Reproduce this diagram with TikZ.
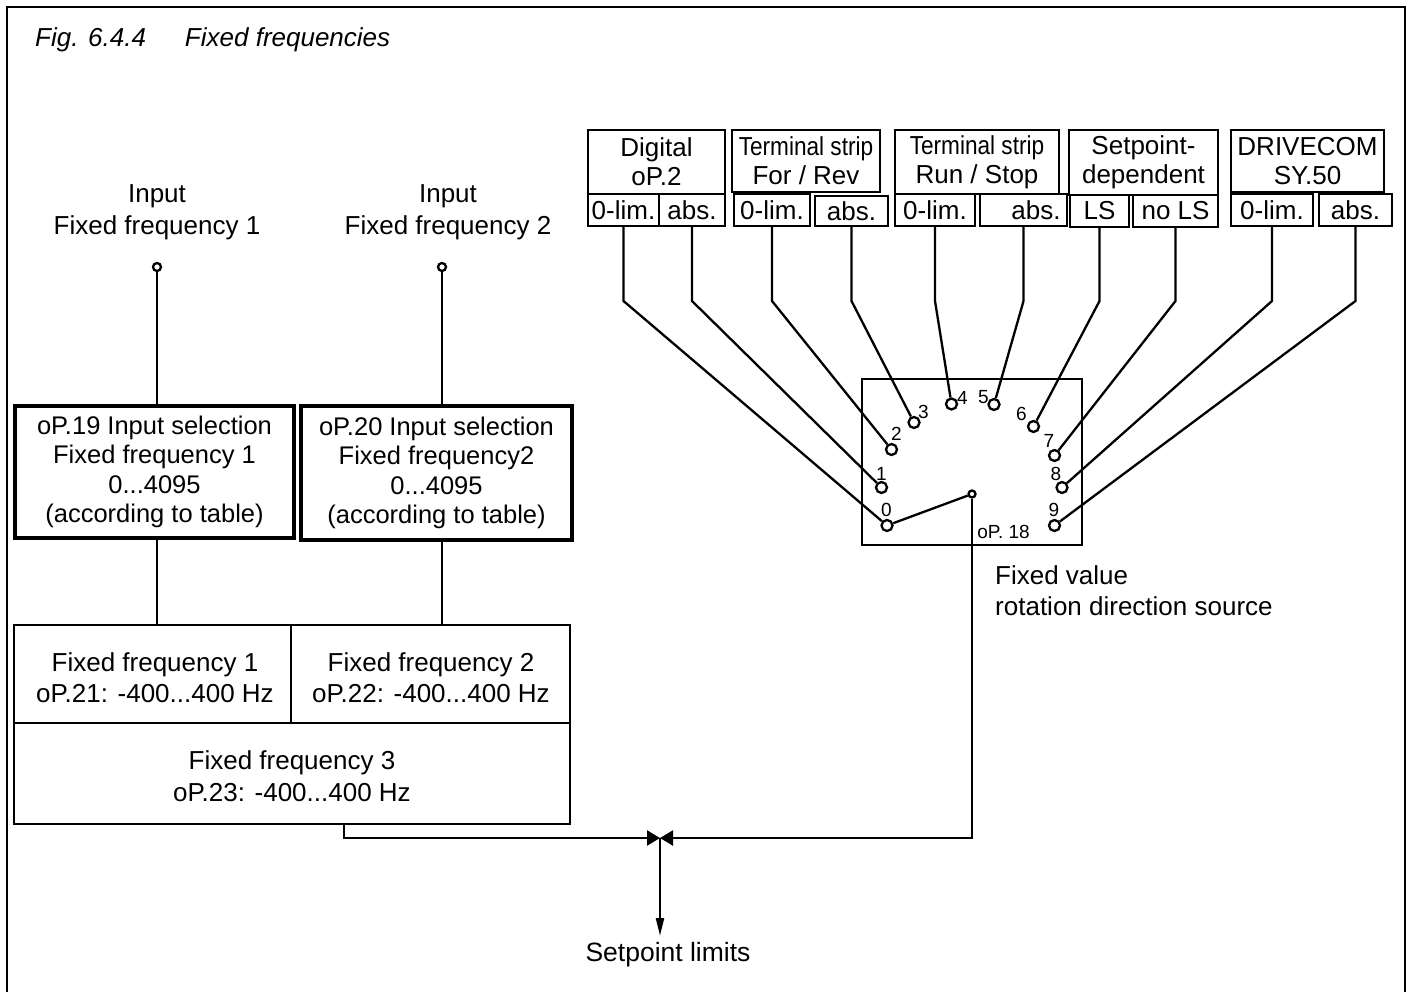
\documentclass[tikz,border=0pt]{standalone}
\usepackage{fontspec}
\setmainfont{Liberation Sans}
\usetikzlibrary{arrows.meta,calc}
\begin{document}
\begin{tikzpicture}[x=1pt,y=-1pt,
  ln/.style={line width=2.3pt},
  txt/.style={font=\fontsize{26}{32}\selectfont, align=center, inner sep=0pt},
  box/.style={draw, line width=2.3pt, inner sep=0pt, align=center, font=\fontsize{26}{29}\selectfont},
  thickbox/.style={draw, line width=3.8pt, inner sep=0pt, align=center, font=\fontsize{25.5}{29.3}\selectfont},
  contact/.style={circle, draw, line width=2.3pt, minimum size=11pt, inner sep=0pt},
  small/.style={font=\fontsize{19}{22}\selectfont, inner sep=0pt},
  jtip/.style={-{Triangle[length=13pt,width=15pt]}},
  dtip/.style={-{Triangle[length=18pt,width=8pt]}}
]
\useasboundingbox (0,0) rectangle (1412,992);
% frame
\draw[ln] (7,992) -- (7,7) -- (1405,7) -- (1405,992);
\node[anchor=west, inner sep=0pt, font=\fontsize{26}{30}\selectfont\itshape] (title) at (35,40) {Fig. 6.4.4\hspace{39pt}Fixed frequencies};

% inputs
\node[txt] (in1) at (157,212) {Input\\Fixed frequency 1};
\node[txt] (in2) at (448,212) {Input\\Fixed frequency 2};
\node[circle, draw, line width=2.3pt, minimum size=8pt, inner sep=0pt] (ic1) at (157,267) {};
\node[circle, draw, line width=2.3pt, minimum size=8pt, inner sep=0pt] (ic2) at (442,267) {};

% selection boxes
\node[thickbox, minimum width=279pt, minimum height=132pt] (b1) at (154.5,472) {oP.19 Input selection\\Fixed frequency 1\\0...4095\\(according to table)};
\node[thickbox, minimum width=271pt, minimum height=134pt] (b2) at (436.5,473) {oP.20 Input selection\\Fixed frequency2\\0...4095\\(according to table)};

% big box
\node[draw, line width=2.3pt, minimum width=556pt, minimum height=199pt, inner sep=0pt] (big) at (292,724.5) {};
\coordinate (dv) at (291,723);
\draw[ln] (big.west |- dv) -- (big.east |- dv);
\draw[ln] (dv |- big.north) -- (dv);
\node[txt, font=\fontsize{26}{31}\selectfont] (ff1) at (155,677.5) {Fixed frequency 1\\oP.21: -400...400 Hz};
\node[txt, font=\fontsize{26}{31}\selectfont] (ff2) at (431,677.5) {Fixed frequency 2\\oP.22: -400...400 Hz};
\node[txt, font=\fontsize{26}{32}\selectfont] (ff3) at (292,776) {Fixed frequency 3\\oP.23: -400...400 Hz};

% input connections
\draw[ln] (ic1.south) -- (ic1 |- b1.north);
\draw[ln] (ic1 |- b1.south) -- (ic1 |- big.north);
\draw[ln] (ic2.south) -- (ic2 |- b2.north);
\draw[ln] (ic2 |- b2.south) -- (ic2 |- big.north);

% top source boxes
\node[box, minimum width=137pt, minimum height=64pt] (t1) at (656.5,162) {Digital\\oP.2};
\node[box, minimum width=71pt, minimum height=32pt] (s1) at (623.5,210) {0-lim.};
\node[box, minimum width=66pt, minimum height=32pt] (s2) at (692,210) {abs.};

\node[box, minimum width=148pt, minimum height=62pt] (t2) at (806,161) {\scalebox{0.87}[1]{Terminal strip}\\For / Rev};
\node[box, minimum width=76pt, minimum height=32pt] (s3) at (772,210) {0-lim.};
\node[box, minimum width=73pt, minimum height=30pt] (s4) at (851.5,211) {abs.};

\node[box, minimum width=164pt, minimum height=64pt] (t3) at (977,162) {\scalebox{0.87}[1]{Terminal strip}\\Run / Stop};
\node[box, minimum width=80pt, minimum height=32pt] (s5) at (935,210) {0-lim.};
\node[box, minimum width=87pt, minimum height=32pt] (s6) at (1023.5,210) {\hspace*{25pt}abs.};

\node[box, minimum width=149pt, minimum height=65pt] (t4) at (1143.5,162.5) {Setpoint-\\dependent};
\node[box, minimum width=59pt, minimum height=32pt] (s7) at (1099.5,211) {LS};
\node[box, minimum width=85pt, minimum height=32pt] (s8) at (1175.5,211) {no LS};

\node[box, minimum width=153pt, minimum height=62pt] (t5) at (1307.5,161) {DRIVECOM\\SY.50};
\node[box, minimum width=82pt, minimum height=32pt] (s9) at (1272,210) {0-lim.};
\node[box, minimum width=73pt, minimum height=32pt] (s10) at (1355.5,210) {abs.};

% switch box
\node[draw, line width=2.3pt, minimum width=220pt, minimum height=166pt, inner sep=0pt] (sw) at (972,462) {};
\node[contact] (c0) at (887,525.5) {};
\node[contact] (c1) at (881.5,487.5) {};
\node[contact] (c2) at (891.5,449.5) {};
\node[contact] (c3) at (914,422.5) {};
\node[contact] (c4) at (951.5,404) {};
\node[contact] (c5) at (994,404.5) {};
\node[contact] (c6) at (1033.5,426.5) {};
\node[contact] (c7) at (1054.5,455.5) {};
\node[contact] (c8) at (1062,487.5) {};
\node[contact] (c9) at (1054.5,525.5) {};
\node[small] (l0) at (886.5,510) {0};
\node[small] (l1) at (881.5,473.5) {1};
\node[small] (l2) at (896.5,434) {2};
\node[small] (l3) at (923.5,411.5) {3};
\node[small] (l4) at (962.5,397.5) {4};
\node[small] (l5) at (983.5,397.5) {5};
\node[small] (l6) at (1021.5,413.5) {6};
\node[small] (l7) at (1049,440.5) {7};
\node[small] (l8) at (1056,473.5) {8};
\node[small] (l9) at (1054,510) {9};
\node[small] (op18) at (1003.5,531.5) {oP. 18};
\node[circle, draw, line width=2.3pt, minimum size=7pt, inner sep=0pt] (w) at (972,494) {};
\draw[ln] (c0) -- (w);
\node[anchor=west, align=left, inner sep=0pt, font=\fontsize{26}{31}\selectfont] (fv) at (995,590.5) {Fixed value\\rotation direction source};

% source connections
\coordinate (bend) at (0,301);
\draw[ln] (s1.south) -- (s1.south |- bend) -- (c0);
\draw[ln] (s2.south) -- (s2.south |- bend) -- (c1);
\draw[ln] (s3.south) -- (s3.south |- bend) -- (c2);
\draw[ln] (s4.south) -- (s4.south |- bend) -- (c3);
\draw[ln] (s5.south) -- (s5.south |- bend) -- (c4);
\draw[ln] (s6.south) -- (s6.south |- bend) -- (c5);
\draw[ln] (s7.south) -- (s7.south |- bend) -- (c6);
\draw[ln] (s8.south) -- (s8.south |- bend) -- (c7);
\draw[ln] (s9.south) -- (s9.south |- bend) -- (c8);
\draw[ln] (s10.south) -- (s10.south |- bend) -- (c9);

% output junction
\coordinate (jn) at (660,838);
\coordinate (o) at (344,824);
\coordinate (dn) at (660,936);
\node[txt, font=\fontsize{26.5}{30}\selectfont] (sl) at (668,955) {Setpoint limits};
\draw[ln, jtip] (o) -- (o |- jn) -- (jn);
\draw[ln, jtip] (w.south) -- (w.south |- jn) -- (jn);
\draw[ln, dtip] (jn) -- (dn);
\end{tikzpicture}
\end{document}
